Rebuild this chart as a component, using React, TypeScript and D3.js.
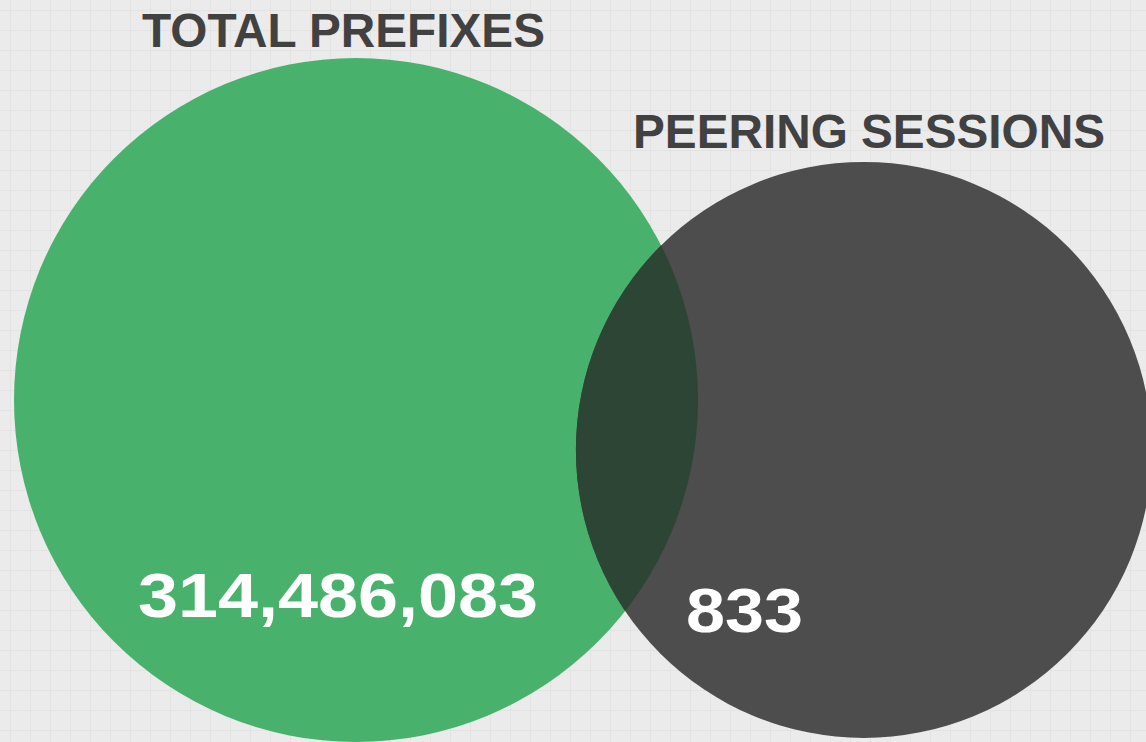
import React, { useEffect, useRef } from 'react';
import * as d3 from 'd3';

// Sets of the venn diagram
const setNames = ['TOTAL PREFIXES', 'PEERING SESSIONS'];
const setValues = [314486083, 833];
const setLabels = ['314,486,083', '833'];
// venn layout in unit space (green circle = radius 1)
const layoutX = [0, 1.485];
const layoutY = [0, 0.146];
const layoutR = [1, 0.842];
const setColors = ['#48b26c', '#4d4d4d'];
const overlapColor = '#2c4535';

const W = 1146;
const H = 742;

const App: React.FC = () => {
  const ref = useRef<SVGSVGElement>(null);

  useEffect(() => {
    document.body.style.margin = '0';
    if (!ref.current) return;
    const svg = d3.select(ref.current);
    svg.selectAll('*').remove();

    // background with faint grid
    svg.append('rect').attr('width', W).attr('height', H).attr('fill', '#ebebeb');
    const grid = svg.append('g').attr('stroke', '#e3e3e3').attr('stroke-width', 1);
    grid.selectAll('line.v')
      .data(d3.range(10, W, 20))
      .enter().append('line')
      .attr('x1', d => d + 0.5).attr('x2', d => d + 0.5)
      .attr('y1', 0).attr('y2', H);
    grid.selectAll('line.h')
      .data(d3.range(10, H, 20))
      .enter().append('line')
      .attr('y1', d => d + 0.5).attr('y2', d => d + 0.5)
      .attr('x1', 0).attr('x2', W);

    // scales from unit space to pixels
    const k = 342;
    const x = d3.scaleLinear().domain([0, 1]).range([356, 356 + k]);
    const y = d3.scaleLinear().domain([0, 1]).range([400, 400 + k]);
    const r = d3.scaleLinear().domain([0, 1]).range([0, k]);

    const sets = setNames.map((name, i) => ({
      name,
      value: setValues[i],
      label: setLabels[i],
      cx: x(layoutX[i]),
      cy: y(layoutY[i]),
      r: r(layoutR[i]),
      color: setColors[i],
    }));

    svg.append('defs').append('clipPath').attr('id', 'clipA')
      .append('circle')
      .attr('cx', sets[0].cx).attr('cy', sets[0].cy).attr('r', sets[0].r);

    svg.selectAll('circle.set')
      .data(sets)
      .enter().append('circle')
      .attr('class', 'set')
      .attr('cx', d => d.cx).attr('cy', d => d.cy).attr('r', d => d.r)
      .attr('fill', d => d.color);

    // intersection
    svg.append('circle')
      .attr('cx', sets[1].cx).attr('cy', sets[1].cy).attr('r', sets[1].r)
      .attr('clip-path', 'url(#clipA)')
      .attr('fill', overlapColor);

    const font = '"Liberation Sans", Arial, sans-serif';

    // titles
    const titlePos = [
      { x: 343.5, y: 47, w: 403 },
      { x: 869, y: 148, w: 472 },
    ];
    svg.selectAll('text.title')
      .data(sets)
      .enter().append('text')
      .attr('class', 'title')
      .attr('x', (_, i) => titlePos[i].x)
      .attr('y', (_, i) => titlePos[i].y)
      .attr('text-anchor', 'middle')
      .attr('textLength', (_, i) => titlePos[i].w)
      .attr('lengthAdjust', 'spacingAndGlyphs')
      .style('font-family', font)
      .style('font-weight', 'bold')
      .style('font-size', '48px')
      .attr('fill', '#414141')
      .text(d => d.name);

    // values
    const valuePos = [
      { x: 338, y: 617, w: 400 },
      { x: 744.5, y: 632, w: 117 },
    ];
    svg.selectAll('text.value')
      .data(sets)
      .enter().append('text')
      .attr('class', 'value')
      .attr('x', (_, i) => valuePos[i].x)
      .attr('y', (_, i) => valuePos[i].y)
      .attr('text-anchor', 'middle')
      .attr('textLength', (_, i) => valuePos[i].w)
      .attr('lengthAdjust', 'spacingAndGlyphs')
      .style('font-family', font)
      .style('font-weight', 'bold')
      .style('font-size', '63px')
      .attr('fill', '#ffffff')
      .text(d => d.label);
  }, []);

  return <svg ref={ref} width={W} height={H} style={{ display: 'block' }} />;
};

export default App;
